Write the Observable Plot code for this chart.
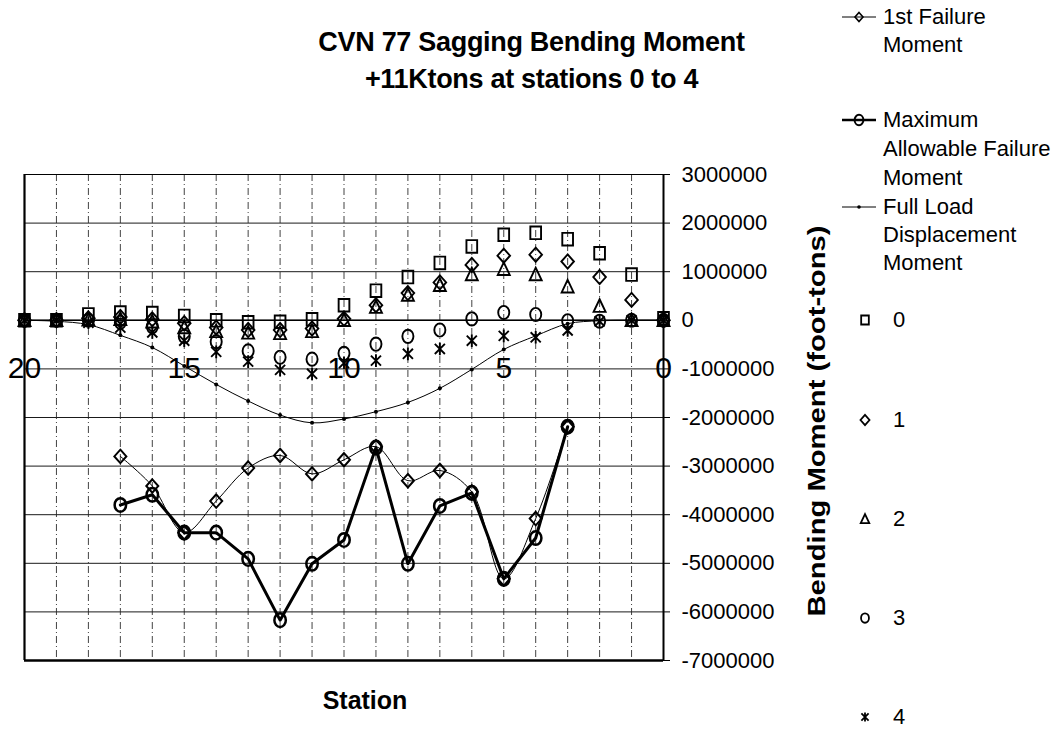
<!DOCTYPE html>
<html><head><meta charset="utf-8">
<script src="https://cdn.jsdelivr.net/npm/d3@7"></script>
<script src="https://cdn.jsdelivr.net/npm/@observablehq/plot@0.6"></script>
<style>
body{margin:0;background:#fff;font-family:"Liberation Sans",Arial,sans-serif;color:#000;}
#wrap{position:relative;width:1063px;height:730px;overflow:hidden;background:#fff;}
#chart{position:absolute;left:0;top:0;}
.t{position:absolute;white-space:nowrap;color:#000;}
.title{left:0;width:1063px;text-align:center;font-weight:bold;font-size:27px;line-height:27px;letter-spacing:-0.3px;}
.leg{font-size:22px;line-height:22px;}
</style></head><body>
<div id="wrap"><div id="chart"></div></div>
<script>
// ---------------- data ----------------
const stations = [20,19,18,17,16,15,14,13,12,11,10,9,8,7,6,5,4,3,2,1,0];
const fullLoad = [0,-20000,-90000,-310000,-560000,-940000,-1320000,-1660000,-1950000,-2110000,-2030000,-1880000,-1690000,-1400000,-1010000,-600000,-320000,-70000,-10000,0,0];
const case0 = [0,0,120000,160000,150000,90000,0,-40000,-30000,20000,310000,610000,890000,1180000,1520000,1760000,1800000,1670000,1380000,940000,40000];
const case1 = [0,0,40000,70000,20000,-60000,-150000,-200000,-200000,-170000,30000,310000,560000,780000,1140000,1330000,1350000,1210000,890000,420000,0];
const case2 = [0,0,10000,20000,-30000,-150000,-230000,-260000,-270000,-230000,0,270000,520000,720000,940000,1050000,940000,690000,290000,0,0];
const case3 = [0,0,0,-40000,-130000,-330000,-440000,-630000,-760000,-800000,-680000,-490000,-330000,-200000,30000,160000,120000,-10000,-20000,0,0];
const case4 = [0,0,-50000,-150000,-250000,-420000,-650000,-850000,-1020000,-1100000,-880000,-830000,-690000,-590000,-420000,-320000,-350000,-210000,-20000,0,0];
const failureStations = [17,16,15,14,13,12,11,10,9,8,7,6,5,4,3];
const firstFailure = [-2800000,-3410000,-4370000,-3720000,-3040000,-2780000,-3160000,-2870000,-2600000,-3300000,-3090000,-3530000,-5320000,-4080000,-2190000];
const maxAllowable = [-3800000,-3590000,-4370000,-4370000,-4910000,-6170000,-5010000,-4520000,-2620000,-5010000,-3820000,-3550000,-5320000,-4480000,-2190000];
const xTickLabels = [20,15,10,5,0];
const yTicks = [3000000,2000000,1000000,0,-1000000,-2000000,-3000000,-4000000,-5000000,-6000000,-7000000];
const caseNames = ["0","1","2","3","4"];
const seriesNames = [["1st Failure","Moment"],["Maximum","Allowable Failure","Moment"],["Full Load","Displacement","Moment"]];
const titleLines = ["CVN 77 Sagging Bending Moment","+11Ktons at stations 0 to 4"];
const xLabel = "Station";
const yLabel = "Bending Moment (foot-tons)";

// ---------------- symbols ----------------
const mk = f => ({draw(c, size){ const r = Math.sqrt(size/Math.PI); f(c, r); }});
const symSquare = mk((c,r)=>{c.moveTo(-0.85*r,-r);c.lineTo(0.85*r,-r);c.lineTo(0.85*r,r);c.lineTo(-0.85*r,r);c.closePath();});
const symDiamond = mk((c,r)=>{c.moveTo(0,-1.12*r);c.lineTo(r,0);c.lineTo(0,1.12*r);c.lineTo(-r,0);c.closePath();});
const symTriangle = mk((c,r)=>{c.moveTo(0,-1.1*r);c.lineTo(0.95*r,0.9*r);c.lineTo(-0.95*r,0.9*r);c.closePath();});
const symEllipse = mk((c,r)=>{const rx=0.88*r, ry=1.05*r, k=0.5523;
  c.moveTo(rx,0);
  c.bezierCurveTo(rx,ry*k,rx*k,ry,0,ry);
  c.bezierCurveTo(-rx*k,ry,-rx,ry*k,-rx,0);
  c.bezierCurveTo(-rx,-ry*k,-rx*k,-ry,0,-ry);
  c.bezierCurveTo(rx*k,-ry,rx,-ry*k,rx,0);
  c.closePath();});
const symStar = mk((c,r)=>{c.moveTo(0,-r);c.lineTo(0,r);c.moveTo(-0.8*r,-0.8*r);c.lineTo(0.8*r,0.8*r);c.moveTo(-0.8*r,0.8*r);c.lineTo(0.8*r,-0.8*r);});
const caseSymbols = [symSquare, symDiamond, symTriangle, symEllipse, symStar];
const caseValues = [case0, case1, case2, case3, case4];

// ---------------- tables ----------------
const fullTable = stations.map((s,i)=>({station:s, value:fullLoad[i]}));
const firstTable = failureStations.map((s,i)=>({station:s, value:firstFailure[i]}));
const maxTable = failureStations.map((s,i)=>({station:s, value:maxAllowable[i]}));
const caseTables = caseValues.map(vals => stations.map((s,i)=>({station:s, value:vals[i]})));

const FONT = '"Liberation Sans", Arial, sans-serif';

const chart = Plot.plot({
  width: 1063, height: 730,
  marginLeft: 24, marginRight: 400, marginTop: 174, marginBottom: 70,
  style: {fontFamily: FONT, background: "transparent", color: "#000"},
  x: {domain: [stations[0], stations[stations.length-1]], axis: null},
  y: {domain: [yTicks[yTicks.length-1], yTicks[0]], axis: null},
  marks: [
    Plot.ruleY(yTicks, {stroke: "#1a1a1a", strokeWidth: 1}),
    Plot.ruleX(stations, {stroke: "#222", strokeWidth: 1, strokeDasharray: "7 3 1 3", strokeOpacity: 0.85}),
    Plot.frame({stroke: "#000", strokeWidth: 1}),
    Plot.ruleX([stations[0]], {stroke: "#000", strokeWidth: 2.2}),
    Plot.ruleX([stations[stations.length-1]], {stroke: "#000", strokeWidth: 2}),
    Plot.ruleY([yTicks[yTicks.length-1]], {stroke: "#000", strokeWidth: 2.6}),
    Plot.ruleY([0], {stroke: "#000", strokeWidth: 1.5}),
    // Full load displacement moment
    Plot.line(fullTable, {x: "station", y: "value", stroke: "#000", strokeWidth: 1, curve: "catmull-rom"}),
    Plot.dot(fullTable, {x: "station", y: "value", r: 2, fill: "#000", stroke: "none"}),
    // 1st failure moment
    Plot.line(firstTable, {x: "station", y: "value", stroke: "#000", strokeWidth: 1, curve: "catmull-rom"}),
    Plot.dot(firstTable, {x: "station", y: "value", symbol: symDiamond, r: 6, fill: "none", stroke: "#000", strokeWidth: 2}),
    // maximum allowable failure moment
    Plot.line(maxTable, {x: "station", y: "value", stroke: "#000", strokeWidth: 3}),
    Plot.dot(maxTable, {x: "station", y: "value", symbol: symEllipse, r: 6.5, fill: "none", stroke: "#000", strokeWidth: 2.5}),
    // load cases 0..4
    ...caseTables.map((tbl, k) => Plot.dot(tbl, {x: "station", y: "value", symbol: caseSymbols[k], r: 6.3, fill: "none", stroke: "#000", strokeWidth: 1.9})),
    // axes
    Plot.axisY(yTicks, {anchor: "right", tickFormat: d => String(d), tickSize: 6, tickPadding: 12, fontSize: 22, label: null, stroke: "#000", fill: "#000"}),
    Plot.text(xTickLabels, {x: d => d, y: () => 0, dy: 48, text: d => String(d), fontSize: 30, fill: "#000"})
  ]
});
document.getElementById("chart").appendChild(chart);

// ---------------- html texts ----------------
const wrap = document.getElementById("wrap");
function addText(txt, cls, css){ const d = document.createElement("div"); d.className = "t " + cls; d.textContent = txt; Object.assign(d.style, css); wrap.appendChild(d); return d; }
addText(titleLines[0], "title", {top: "29px"});
addText(titleLines[1], "title", {top: "66px"});
addText(xLabel, "", {left: "365px", top: "700px", transform: "translate(-50%,-50%)", fontWeight: "bold", fontSize: "25px", lineHeight: "25px"});
addText(yLabel, "", {left: "817px", top: "421px", transform: "translate(-50%,-50%) rotate(-90deg) scaleX(1.27)", fontWeight: "bold", fontSize: "23px", lineHeight: "23px"});

// legend
function symbolSvg(sym, r, sw, lineW, fillSym){
  const W = 34, H = 18;
  const p = d3.path(); sym.draw(p, Math.PI*r*r);
  const cx = lineW ? 17 : 9, cy = 9;
  let s = `<svg width="${lineW?W:18}" height="${H}" style="position:absolute;overflow:visible">`;
  if (lineW) s += `<line x1="0" x2="${W}" y1="${cy}" y2="${cy}" stroke="#000" stroke-width="${lineW}"/>`;
  s += `<path transform="translate(${cx},${cy})" d="${p.toString()}" fill="${fillSym||'none'}" stroke="${fillSym?'none':'#000'}" stroke-width="${sw}"/>`;
  return s + "</svg>";
}
const dotSym = mk((c,r)=>{c.moveTo(r,0);c.arc(0,0,r,0,2*Math.PI);});
const legTop = [
  {sym: symDiamond, r: 4, sw: 1.6, lw: 1, ys: [17,45]},
  {sym: symEllipse, r: 5, sw: 2, lw: 2.5, ys: [120,149,178]},
  {sym: dotSym, r: 1.8, sw: 0, lw: 1, fill: "#000", ys: [207,235,263]}
];
legTop.forEach((e, i) => {
  const m = document.createElement("div"); m.style.position = "absolute"; m.style.left = "842px"; m.style.top = (e.ys[0]-9) + "px";
  m.innerHTML = symbolSvg(e.sym, e.r, e.sw, e.lw, e.fill); wrap.appendChild(m);
  seriesNames[i].forEach((ln, j) => addText(ln, "leg", {left: "883px", top: (e.ys[j]-11) + "px"}));
});
const caseY = [320,420,519,618,717];
caseNames.forEach((nm, k) => {
  const m = document.createElement("div"); m.style.position = "absolute"; m.style.left = "856px"; m.style.top = (caseY[k]-9) + "px";
  m.innerHTML = symbolSvg(caseSymbols[k], 4.5, 1.8, 0); wrap.appendChild(m);
  addText(nm, "leg", {left: "893px", top: (caseY[k]-11) + "px"});
});
</script>
</body></html>
